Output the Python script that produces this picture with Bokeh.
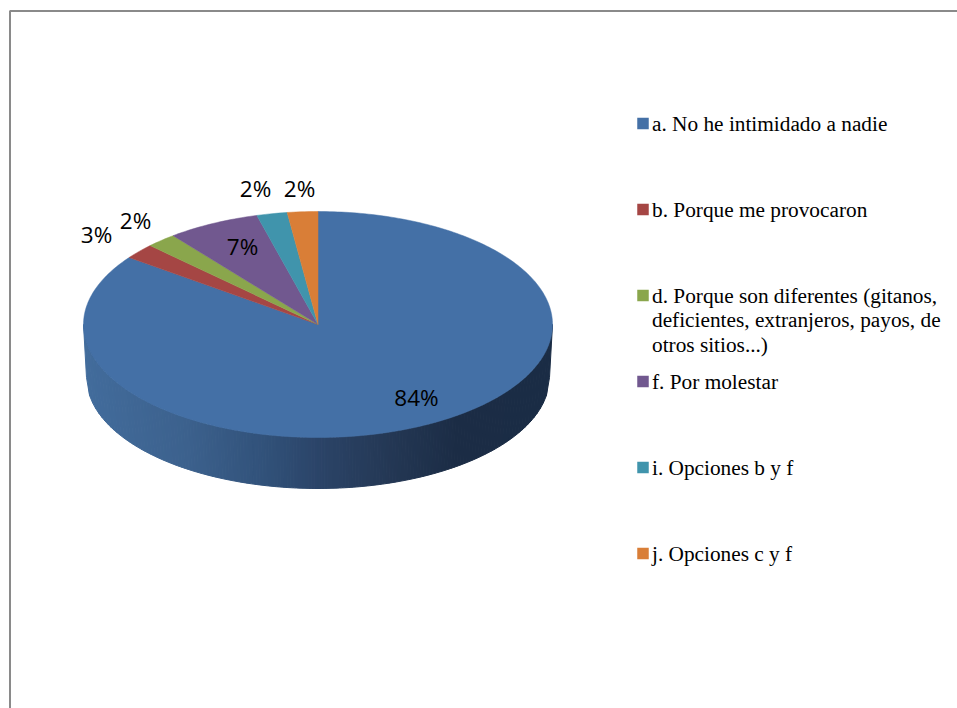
import math
from bokeh.plotting import figure
from bokeh.embed import file_html
from bokeh.resources import INLINE
from bokeh.core.properties import value

categories = ["a. No he intimidado a nadie", "b. Porque me provocaron",
              "d. Porque son diferentes (gitanos,\ndeficientes, extranjeros, payos, de\notros sitios...)",
              "f. Por molestar", "i. Opciones b y f", "j. Opciones c y f"]
shares = [85.1, 2.2, 2.1, 6.4, 2.1, 2.1]
pct_labels = ["84%", "3%", "2%", "7%", "2%", "2%"]
colors = ["#4470A6", "#A54644", "#8AA64C", "#71588F", "#4094AC", "#D97E37"]

CX, CY, RX, RY = 317.5, 324.0, 234.5, 113.0
BOT_CY, BOT_RX, BOT_RY = 377.0, 231.5, 111.0
label_pos = [(416, 397), (96, 234), (135, 220), (242, 246), (255, 188), (299, 188)]
wall_stops = [(0.0, (66, 108, 156)), (0.22, (60, 97, 141)), (0.40, (48, 80, 120)),
              (0.50, (43, 68, 104)), (0.65, (36, 56, 85)), (0.80, (27, 44, 69)), (1.0, (26, 44, 69))]
LEGEND_X, LEGEND_Y0, LEGEND_STEP, LINE_H = 651.5, 123, 86, 24.5

p = figure(width=957, height=708, x_range=(0, 957), y_range=(708, 0),
           output_backend="svg", toolbar_location=None, min_border=0)
p.axis.visible = False
p.grid.visible = False
p.outline_line_color = None
p.background_fill_color = "white"


def wall_color(f):
    for (a, ca), (b, cb) in zip(wall_stops, wall_stops[1:]):
        if f <= b:
            k = (f - a) / (b - a)
            c = [round(x + (y - x) * k) for x, y in zip(ca, cb)]
            return "#%02x%02x%02x" % tuple(c)
    return "#1a2c45"


# side wall, drawn as narrow strips between the rim and the lower edge
N = 150
wx, wy, wc = [], [], []
for i in range(N):
    t0, t1 = -1 + 2 * i / N, -1 + 2 * (i + 1) / N
    s0, s1 = math.sqrt(max(0, 1 - t0 * t0)), math.sqrt(max(0, 1 - t1 * t1))
    wx.append([CX + RX * t0, CX + RX * t1, CX + BOT_RX * t1, CX + BOT_RX * t0])
    wy.append([CY + RY * s0, CY + RY * s1, BOT_CY + BOT_RY * s1, BOT_CY + BOT_RY * s0])
    wc.append(wall_color((i + 0.5) / N))
p.patches(wx, wy, fill_color=wc, line_color=wc, line_width=1)

# top face
total = sum(shares)
start = 0.0
for share, col in zip(shares, colors):
    end = start + share / total * 2 * math.pi
    steps = max(4, int((end - start) * 60))
    angs = [start + (end - start) * k / steps for k in range(steps + 1)]
    xs = [CX] + [CX + RX * math.sin(a) for a in angs]
    ys = [CY] + [CY - RY * math.cos(a) for a in angs]
    p.patch(xs, ys, fill_color=col, line_color=col, line_width=0.5)
    start = end

# data labels
p.text([q[0] for q in label_pos], [q[1] for q in label_pos], text=pct_labels,
       text_font=value("Open Sans"), text_font_size="22.5px", text_color="#000000",
       text_align="center", text_baseline="middle")

# legend
for i, (cat, col) in enumerate(zip(categories, colors)):
    y = LEGEND_Y0 + i * LEGEND_STEP
    p.scatter([642.5], [y], marker="square", size=11.5, fill_color=col, line_color=None)
    for j, line in enumerate(cat.split("\n")):
        p.text([LEGEND_X], [y + j * LINE_H], text=[line],
               text_font=value("Liberation Serif"), text_font_size="21.3px",
               text_color="#000000", text_align="left", text_baseline="middle")

# chart frame
p.line([9.5, 9.5, 957], [708, 10.5, 10.5], line_color="#8a8a8a", line_width=2)

open("out.html", "w").write(file_html(p, INLINE))
